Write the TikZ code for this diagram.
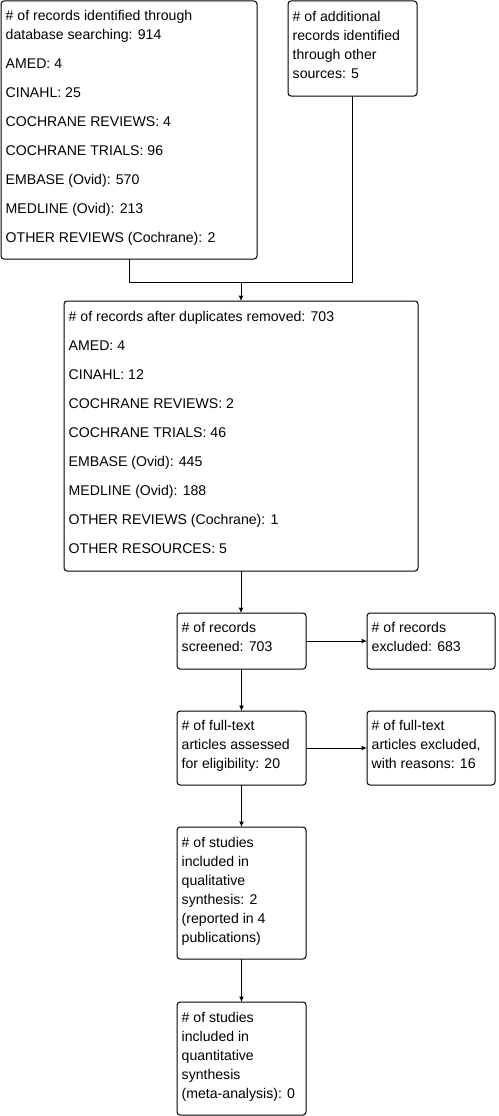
\documentclass[tikz,border=0pt]{standalone}
\usepackage{fontspec}
\setmainfont{Liberation Sans}
\usetikzlibrary{arrows.meta,calc}
\tikzset{
  box/.style={draw, line width=1pt, rounded corners=3pt, inner sep=0pt, outer sep=0pt},
  txt/.style={anchor=north west, inner sep=0pt, align=left, font=\fontsize{14.1}{19}\selectfont},
  conn/.style={line width=1pt},
  arr/.style={conn, -{Latex[length=5.5pt,width=5pt]}}
}
\newcommand\fs{\rule{0pt}{10.5pt}}
\begin{document}
\begin{tikzpicture}[x=1pt,y=-1pt]
\useasboundingbox (0,0) rectangle (498,1116);
% boxes
\node[box, minimum width=256pt, minimum height=258pt] (A) at (129,130) {};
\node[box, minimum width=129pt, minimum height=95pt] (B) at (352.5,48.5) {};
\node[box, minimum width=354pt, minimum height=270pt] (C) at (241,436) {};
\node[box, minimum width=129pt, minimum height=56pt] (D) at (241.5,641) {};
\node[box, minimum width=128pt, minimum height=56pt] (E) at (431,641) {};
\node[box, minimum width=129pt, minimum height=74pt] (F) at (241.5,748) {};
\node[box, minimum width=128pt, minimum height=74pt] (G) at (431,748) {};
\node[box, minimum width=129pt, minimum height=132pt] (H) at (241.5,893) {};
\node[box, minimum width=129pt, minimum height=113pt] (I) at (241.5,1058.5) {};
% texts
\node[txt] (At) at ($(A.north west)+(4.5,9)$) {\fs\# of records identified through\\
database searching: 914\\[10pt]
AMED: 4\\[10pt]
CINAHL: 25\\[10pt]
COCHRANE REVIEWS: 4\\[10pt]
COCHRANE TRIALS: 96\\[10pt]
EMBASE (Ovid): 570\\[10pt]
MEDLINE (Ovid): 213\\[10pt]
OTHER REVIEWS (Cochrane): 2};
\node[txt] (Bt) at ($(B.north west)+(4.5,9.5)$) {\fs\# of additional\\records identified\\through other\\sources: 5};
\node[txt] (Ct) at ($(C.north west)+(4.5,10)$) {\fs\# of records after duplicates removed: 703\\[10pt]
AMED: 4\\[10pt]
CINAHL: 12\\[10pt]
COCHRANE REVIEWS: 2\\[10pt]
COCHRANE TRIALS: 46\\[10pt]
EMBASE (Ovid): 445\\[10pt]
MEDLINE (Ovid): 188\\[10pt]
OTHER REVIEWS (Cochrane): 1\\[10pt]
OTHER RESOURCES: 5};
\node[txt] (Dt) at ($(D.north west)+(4.5,8.5)$) {\fs\# of records\\screened: 703};
\node[txt] (Et) at ($(E.north west)+(4.5,8.5)$) {\fs\# of records\\excluded: 683};
\node[txt] (Ft) at ($(F.north west)+(4.5,8.5)$) {\fs\# of full-text\\articles assessed\\for eligibility: 20};
\node[txt] (Gt) at ($(G.north west)+(4.5,8.5)$) {\fs\# of full-text\\articles excluded,\\with reasons: 16};
\node[txt] (Ht) at ($(H.north west)+(4.5,9.5)$) {\fs\# of studies\\included in\\qualitative\\synthesis: 2\\(reported in 4\\publications)};
\node[txt] (It) at ($(I.north west)+(4.5,9.5)$) {\fs\# of studies\\included in\\quantitative\\synthesis\\(meta-analysis): 0};
% connectors
\coordinate (J) at (241,282);
\draw[conn] (A.south) -- (A.south |- J) -- (B.south |- J) -- (B.south);
\draw[arr] (J) -- (C.north);
\draw[arr] (C.south) -- (C.south |- D.north);
\draw[arr] (D.east) -- (E.west);
\draw[arr] (D.south) -- (F.north);
\draw[arr] (F.east) -- (G.west);
\draw[arr] (F.south) -- (H.north);
\draw[arr] (H.south) -- (I.north);
\end{tikzpicture}
\end{document}
